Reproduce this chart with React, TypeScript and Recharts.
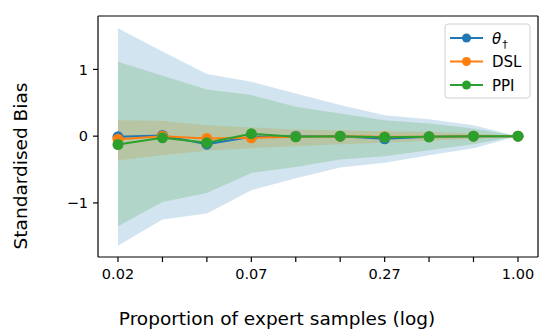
import React from 'react'
import {
  Area,
  ComposedChart,
  Label,
  Line,
  ReferenceLine,
  XAxis,
  YAxis
} from 'recharts'

const proportions = [0.02, 0.0309, 0.0477, 0.0737, 0.1138, 0.1757, 0.2714, 0.419, 0.647, 1.0]
const xTickLabels = ['0.02', '', '', '0.07', '', '', '0.27', '', '', '1.00']
const yTicks = [-1, 0, 1]

const thetaBias = [-0.01, 0.01, -0.12, -0.01, 0.0, 0.0, -0.04, -0.01, 0.0, 0.0]
const thetaUpper = [1.615, 1.27, 0.93, 0.815, 0.64, 0.465, 0.315, 0.255, 0.165, 0]
const thetaLower = [-1.64, -1.25, -1.16, -0.81, -0.63, -0.47, -0.4, -0.285, -0.18, 0]

const dslBias = [-0.045, 0.0, -0.035, -0.025, -0.01, 0.0, -0.01, -0.01, 0.0, 0.0]
const dslUpper = [0.24, 0.23, 0.165, 0.13, 0.1, 0.09, 0.075, 0.065, 0.04, 0]
const dslLower = [-0.36, -0.285, -0.22, -0.18, -0.15, -0.12, -0.1, -0.07, -0.04, 0]

const ppiBias = [-0.125, -0.025, -0.1, 0.035, -0.01, 0.0, -0.015, -0.01, 0.0, 0.0]
const ppiUpper = [1.115, 0.905, 0.7, 0.615, 0.44, 0.34, 0.24, 0.19, 0.115, 0]
const ppiLower = [-1.35, -0.985, -0.85, -0.55, -0.46, -0.35, -0.3, -0.21, -0.12, 0]

const X_DOMAIN = [0.01645, 1.216]
const Y_DOMAIN = [-1.81, 1.8]

const BLUE = '#1f77b4'
const ORANGE = '#ff7f0e'
const GREEN = '#2ca02c'
const FONT = 'DejaVu Sans, sans-serif'

const data = proportions.map((p, i) => ({
  p,
  theta: thetaBias[i],
  dsl: dslBias[i],
  ppi: ppiBias[i],
  thetaBand: [thetaLower[i], thetaUpper[i]],
  dslBand: [dslLower[i], dslUpper[i]],
  ppiBand: [ppiLower[i], ppiUpper[i]]
}))

const fmtY = (v: number) => (v < 0 ? '\u2212' + Math.abs(v) : String(v))
const fmtX = (v: number) => {
  const i = proportions.indexOf(v)
  return i >= 0 ? xTickLabels[i] : ''
}

const LegendBox = () => {
  const rows = [
    { key: 'theta', color: BLUE },
    { key: 'dsl', color: ORANGE, label: 'DSL' },
    { key: 'ppi', color: GREEN, label: 'PPI' }
  ]
  return (
    <svg
      width={88}
      height={76}
      style={{ position: 'absolute', left: 444, top: 23 }}>
      <rect x={1} y={1} width={85} height={74} rx={3} fill='#fff' fillOpacity={0.8} stroke='#d0d0d0' />
      {rows.map((r, i) => {
        const cy = 15 + i * 23.5
        return (
          <g key={r.key}>
            <line x1={6} x2={39} y1={cy} y2={cy} stroke={r.color} strokeWidth={2} />
            <circle cx={22.5} cy={cy} r={4.5} fill={r.color} />
            {r.label ? (
              <text x={48} y={cy + 5.5} fontSize={15} fontFamily={FONT} fill='#000'>
                {r.label}
              </text>
            ) : (
              <text x={48} y={cy + 5.5} fontSize={15} fontFamily={FONT} fill='#000'>
                <tspan fontStyle='italic'>θ</tspan>
                <tspan fontSize={11} dy={4} dx={1}>†</tspan>
              </text>
            )}
          </g>
        )
      })}
    </svg>
  )
}

const App = () => {
  return (
    <div style={{ position: 'absolute', left: 0, top: 0, width: 555, height: 333, background: '#fff' }}>
      <ComposedChart
        width={555}
        height={333}
        data={data}
        margin={{ top: 16, right: 17, bottom: 46, left: 0 }}>
        <XAxis
          dataKey='p'
          type='number'
          scale='log'
          domain={X_DOMAIN}
          allowDataOverflow
          ticks={proportions}
          tickFormatter={fmtX}
          interval={0}
          height={30}
          tickSize={5}
          tickMargin={7}
          stroke='#000'
          strokeWidth={1.2}
          tickLine={{ stroke: '#000', strokeWidth: 1.2 }}
          tick={{ fill: '#000', fontSize: 14.5, fontFamily: FONT }}>
          <Label
            content={() => (
              <text x={277} y={325} textAnchor='middle' fontSize={18.5} fontFamily={FONT} fill='#000'>
                Proportion of expert samples (log)
              </text>
            )}
          />
        </XAxis>
        <YAxis
          type='number'
          domain={Y_DOMAIN}
          allowDataOverflow
          ticks={yTicks}
          tickFormatter={fmtY}
          width={98}
          tickSize={5}
          tickMargin={5}
          stroke='#000'
          strokeWidth={1.2}
          tickLine={{ stroke: '#000', strokeWidth: 1.2 }}
          tick={{ fill: '#000', fontSize: 14.5, fontFamily: FONT }}>
          <Label
            content={() => (
              <text
                x={26.5}
                y={166}
                transform='rotate(-90, 26.5, 166)'
                textAnchor='middle'
                fontSize={18.5}
                fontFamily={FONT}
                fill='#000'>
                Standardised Bias
              </text>
            )}
          />
        </YAxis>
        <Area
          dataKey='thetaBand'
          type='linear'
          fill={BLUE}
          fillOpacity={0.2}
          stroke='none'
          dot={false}
          activeDot={false}
          isAnimationActive={false}
        />
        <Area
          dataKey='dslBand'
          type='linear'
          fill={ORANGE}
          fillOpacity={0.2}
          stroke='none'
          dot={false}
          activeDot={false}
          isAnimationActive={false}
        />
        <Area
          dataKey='ppiBand'
          type='linear'
          fill={GREEN}
          fillOpacity={0.2}
          stroke='none'
          dot={false}
          activeDot={false}
          isAnimationActive={false}
        />
        <Line
          dataKey='theta'
          type='linear'
          stroke={BLUE}
          strokeWidth={2}
          dot={{ r: 5.5, fill: BLUE, stroke: BLUE, strokeWidth: 0 }}
          activeDot={false}
          isAnimationActive={false}
        />
        <Line
          dataKey='dsl'
          type='linear'
          stroke={ORANGE}
          strokeWidth={2}
          dot={{ r: 5.5, fill: ORANGE, stroke: ORANGE, strokeWidth: 0 }}
          activeDot={false}
          isAnimationActive={false}
        />
        <Line
          dataKey='ppi'
          type='linear'
          stroke={GREEN}
          strokeWidth={2}
          dot={{ r: 5.5, fill: GREEN, stroke: GREEN, strokeWidth: 0 }}
          activeDot={false}
          isAnimationActive={false}
        />
        <ReferenceLine y={Y_DOMAIN[1]} stroke='#000' strokeWidth={1.2} />
        <ReferenceLine x={X_DOMAIN[1]} stroke='#000' strokeWidth={1.2} />
      </ComposedChart>
      <LegendBox />
    </div>
  )
}

export default App
